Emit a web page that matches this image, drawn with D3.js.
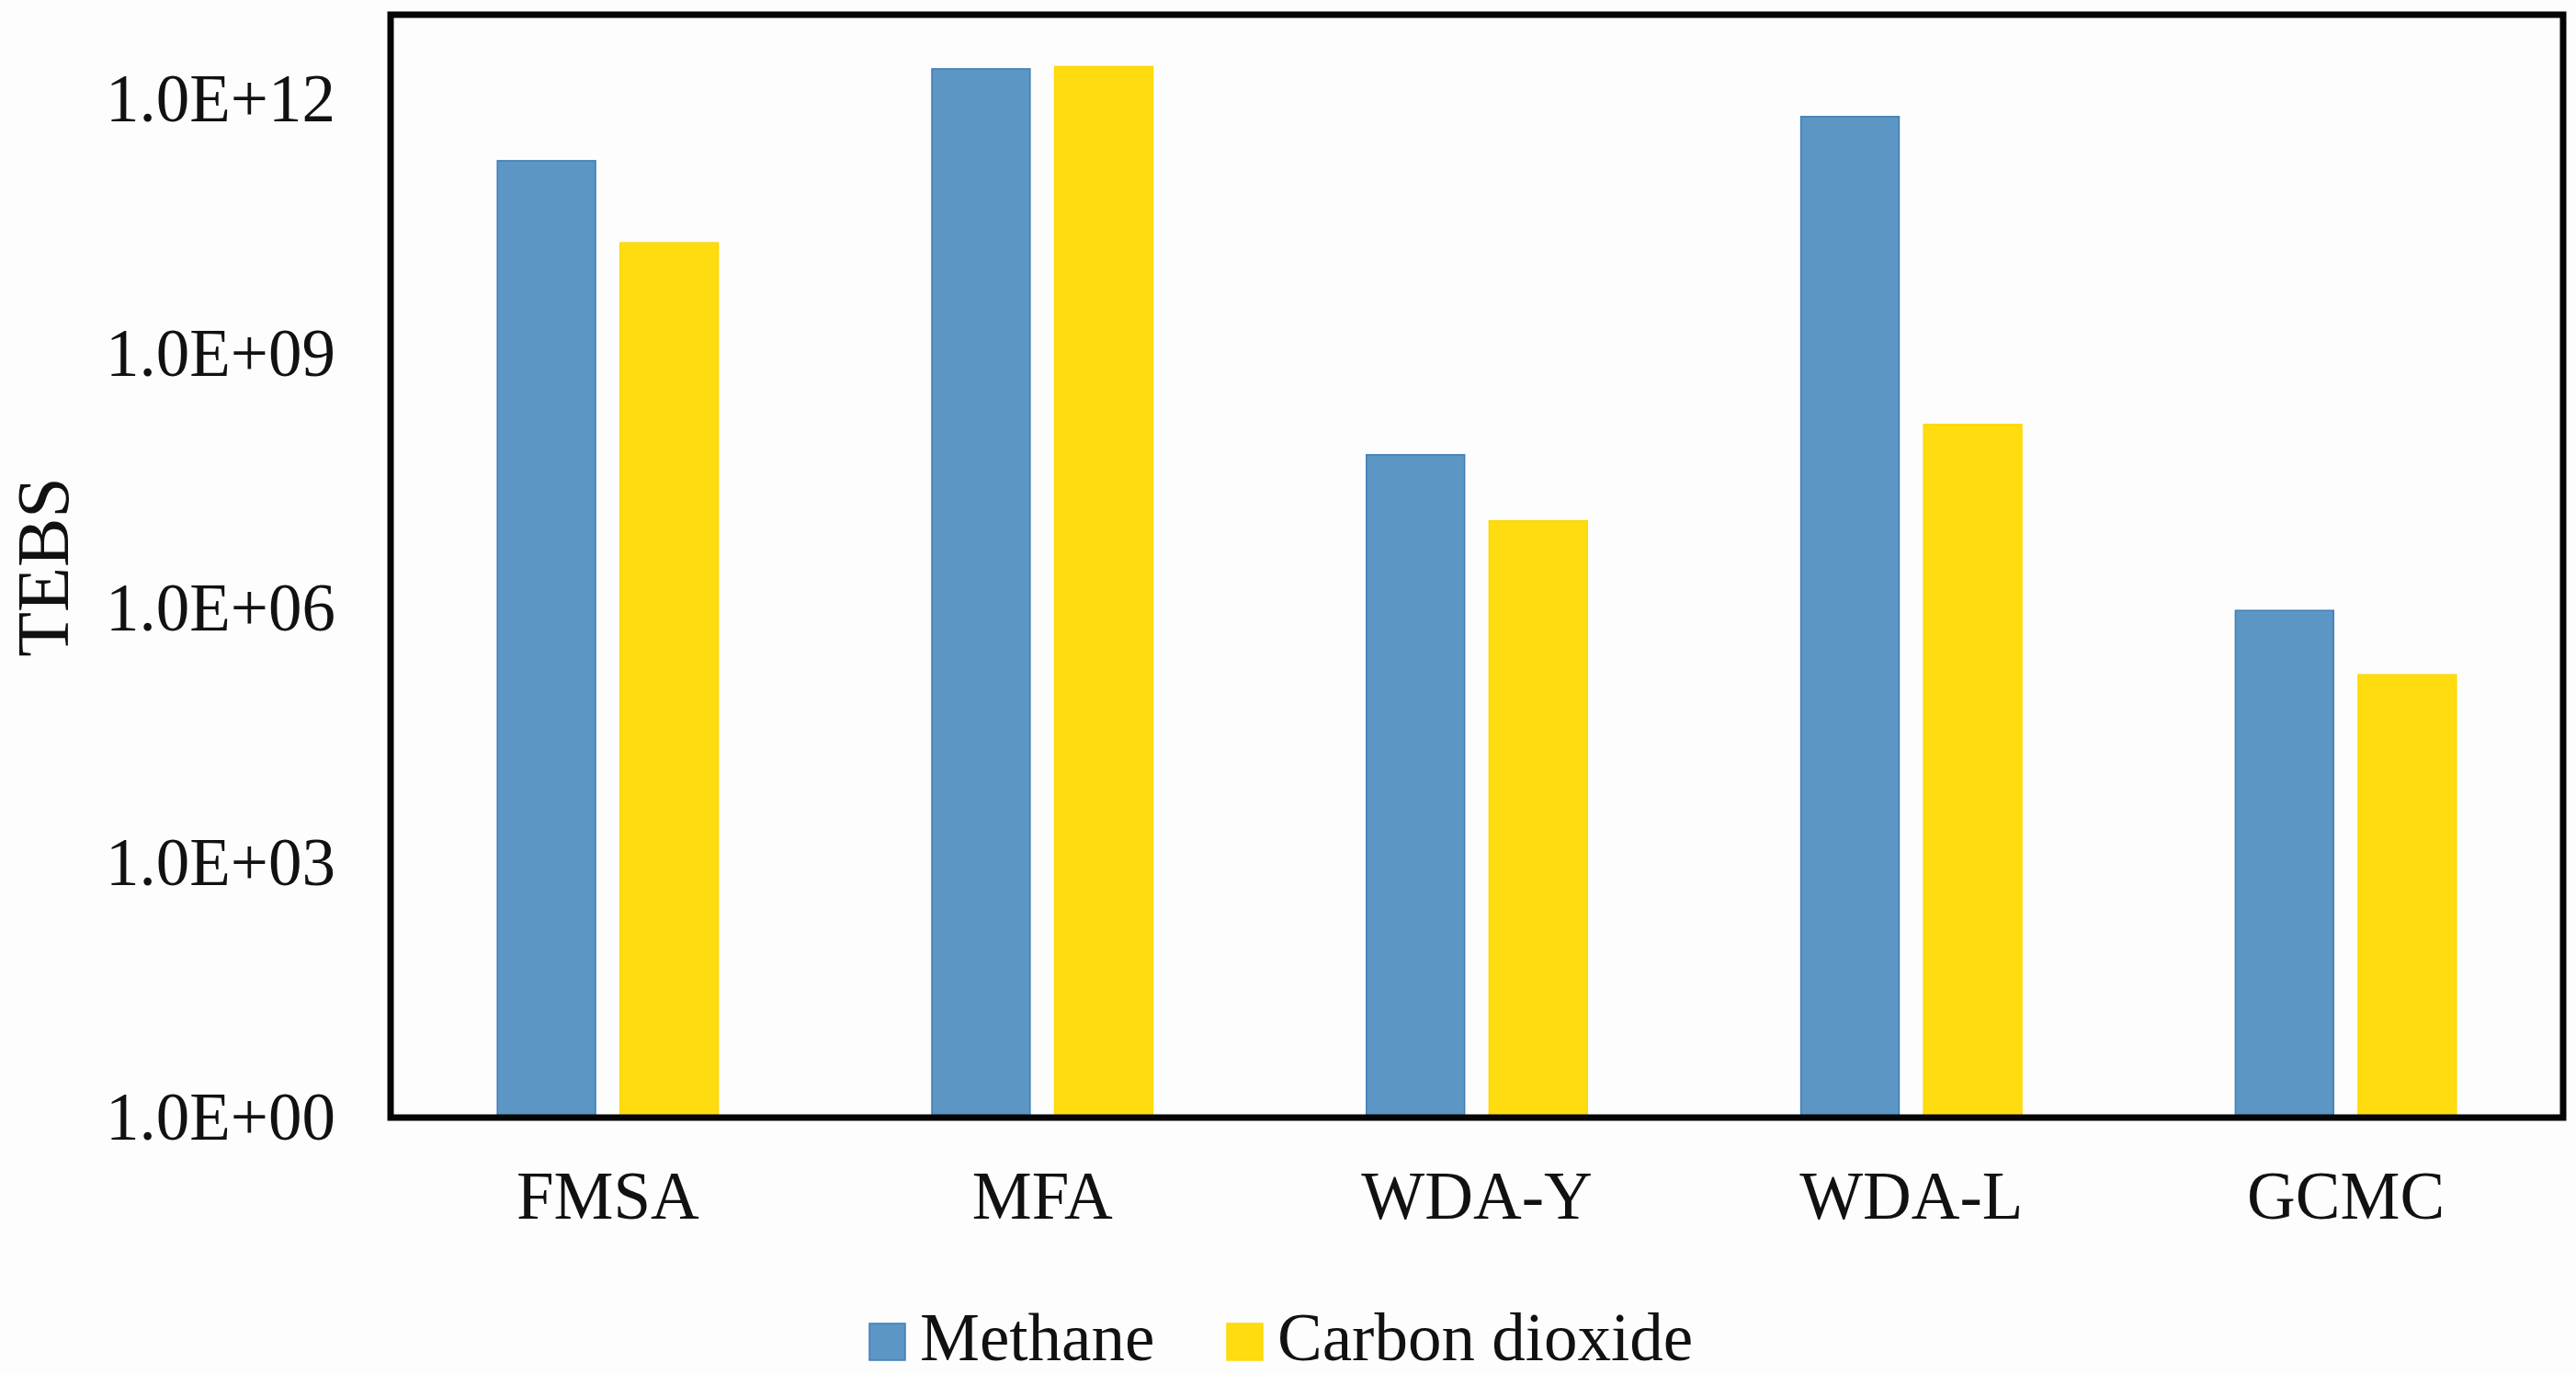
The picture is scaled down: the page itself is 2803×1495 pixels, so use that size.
<!DOCTYPE html>
<html>
<head>
<meta charset="utf-8">
<script src="https://cdn.jsdelivr.net/npm/d3@7"></script>
<style>
  body { margin: 0; background: #fdfdfd; }
  svg { display: block; }
  text { font-family: "Liberation Serif", "Times New Roman", serif; fill: #111; }
</style>
</head>
<body>
<div id="chart"></div>
<script>
// data
var methods = ["FMSA", "MFA", "WDA-Y", "WDA-L", "GCMC"];
var seriesNames = ["Methane", "Carbon dioxide"];
var methane = [1.9e11, 2.3e12, 6.5e7, 6.3e11, 9.5e5];
var carbonDioxide = [2.05e10, 2.45e12, 1.08e7, 1.48e8, 1.66e5];
var yTicks = [1e0, 1e3, 1e6, 1e9, 1e12];
var colors = ["#5b96c4", "#ffdc10"];
var strokes = ["#3f7db7", "#ffd700"];

var W = 2803, H = 1495;
var margin = {top: 16, right: 14, bottom: 279, left: 425},
    width = W - margin.left - margin.right,
    height = H - margin.top - margin.bottom;

var svg = d3.select("#chart")
  .append("svg")
    .attr("width", W)
    .attr("height", H)
  .append("g")
    .attr("transform", "translate(" + margin.left + "," + margin.top + ")");

var rows = methods.map(function(m, i) {
  return {method: m, values: [methane[i], carbonDioxide[i]]};
});

// scales
var x0 = d3.scaleBand()
  .domain(methods)
  .range([0, width])
  .padding(0);

var x1 = d3.scaleBand()
  .domain([0, 1])
  .range([0, x0.bandwidth()])
  .paddingInner(0.2)
  .paddingOuter(0.87);

var y = d3.scaleLog()
  .domain([1, 1e13])
  .range([height, 0]);

// bars
var groups = svg.append("g")
  .selectAll("g")
  .data(rows)
  .enter()
  .append("g")
    .attr("transform", function(d) { return "translate(" + x0(d.method) + ",0)"; });

groups.selectAll("rect")
  .data(function(d) { return d.values.map(function(v, j) { return {v: v, j: j}; }); })
  .enter()
  .append("rect")
    .attr("x", function(d) { return x1(d.j); })
    .attr("y", function(d) { return y(d.v); })
    .attr("width", x1.bandwidth())
    .attr("height", function(d) { return height - y(d.v); })
    .style("fill", function(d) { return colors[d.j]; })
    .style("stroke", function(d) { return strokes[d.j]; })
    .style("stroke-width", 1.5);

// y axis
var yAxis = svg.append("g")
  .call(d3.axisLeft(y)
    .tickValues(yTicks)
    .tickSize(0)
    .tickPadding(60)
    .tickFormat(function(d) {
      var e = Math.round(Math.log10(d));
      return "1.0E+" + (e < 10 ? "0" + e : e);
    }));
yAxis.select(".domain").remove();
yAxis.selectAll("text")
  .style("font-family", "Liberation Serif, Times New Roman, serif")
  .style("font-size", "73px")
  .style("fill", "#111");

// x axis labels
var xAxis = svg.append("g")
  .attr("transform", "translate(0," + height + ")")
  .call(d3.axisBottom(x0).tickSize(0).tickPadding(58));
xAxis.select(".domain").remove();
xAxis.selectAll("text")
  .style("font-family", "Liberation Serif, Times New Roman, serif")
  .style("font-size", "73px")
  .style("fill", "#111");

// frame
svg.append("rect")
  .attr("x", 0)
  .attr("y", 0)
  .attr("width", width)
  .attr("height", height)
  .style("fill", "none")
  .style("stroke", "#050505")
  .style("stroke-width", 7);

// y title
svg.append("text")
  .attr("transform", "rotate(-90)")
  .attr("x", -(617 - margin.top))
  .attr("y", 46 - margin.left)
  .attr("dy", "0.35em")
  .style("text-anchor", "middle")
  .style("font-size", "80px")
  .text("TEBS");

// legend
var legend = svg.append("g")
  .attr("transform", "translate(0," + (height + 264) + ")");
var legX = [521, 910];
seriesNames.forEach(function(name, i) {
  legend.append("rect")
    .attr("x", legX[i])
    .attr("y", -40)
    .attr("width", 39)
    .attr("height", 40)
    .style("fill", colors[i])
    .style("stroke", strokes[i])
    .style("stroke-width", 1.5);
  legend.append("text")
    .attr("x", legX[i] + 55)
    .attr("y", 0)
    .style("font-size", "73px")
    .text(name);
});
</script>
</body>
</html>
